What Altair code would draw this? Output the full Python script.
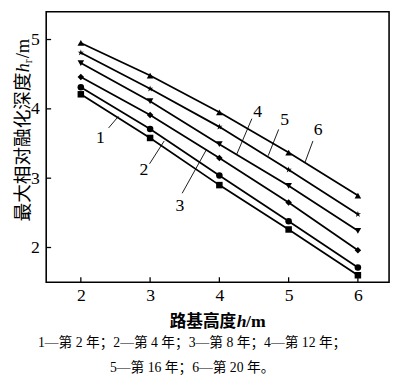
import altair as alt
import pandas as pd

# ---- data ----
heights = [2, 3, 4, 5, 6]
series_names = ["第2年", "第4年", "第8年", "第12年", "第16年", "第20年"]
y_year2 = [4.21, 3.58, 2.90, 2.26, 1.60]
y_year4 = [4.31, 3.71, 3.04, 2.38, 1.71]
y_year8 = [4.46, 3.91, 3.29, 2.65, 1.96]
y_year12 = [4.66, 4.11, 3.49, 2.89, 2.24]
y_year16 = [4.81, 4.29, 3.74, 3.12, 2.48]
y_year20 = [4.95, 4.48, 3.95, 3.37, 2.75]

x_ticks = [2, 3, 4, 5, 6]
y_ticks = [2, 3, 4, 5]

# curve labels (data coordinates) and leader lines
label_text = ["1", "2", "3", "4", "5", "6"]
label_x = [2.283, 2.911, 3.431, 4.554, 4.943, 5.425]
label_y = [3.584, 3.112, 2.592, 3.948, 3.834, 3.693]
leader_x1 = [2.401, 2.992, 3.463, 4.469, 4.856, 5.351]
leader_y1 = [3.725, 3.207, 2.782, 3.858, 3.703, 3.537]
leader_x2 = [2.542, 3.204, 3.817, 4.252, 4.705, 5.234]
leader_y2 = [3.891, 3.537, 3.419, 3.348, 3.324, 3.221]

caption_1 = "1—第 2 年；2—第 4 年；3—第 8 年；4—第 12 年；"
caption_2 = "5—第 16 年；6—第 20 年。"

# ---- build tables ----
all_series = [y_year2, y_year4, y_year8, y_year12, y_year16, y_year20]
rows = []
for name, vals in zip(series_names, all_series):
    for h, v in zip(heights, vals):
        rows.append({"h": h, "d": v, "series": name})
df = pd.DataFrame(rows)

lab_df = pd.DataFrame({"t": label_text, "x": label_x, "y": label_y})
lead_df = pd.DataFrame({"x1": leader_x1, "y1": leader_y1, "x2": leader_x2, "y2": leader_y2})
xt_df = pd.DataFrame({"v": x_ticks})
yt_df = pd.DataFrame({"v": y_ticks})

W, H = 350, 276
SERIF = "'Liberation Serif', 'Noto Sans CJK SC'"
CJK = "'Noto Sans CJK SC'"

xs = alt.Scale(domain=[1.5, 6.45], nice=False, zero=False)
ys = alt.Scale(domain=[1.5, 5.4], nice=False, zero=False)

star = ("M0,-1L0.2245,-0.309L0.951,-0.309L0.363,0.118L0.588,0.809L0,0.382"
        "L-0.588,0.809L-0.363,0.118L-0.951,-0.309L-0.2245,-0.309Z")
shapes = ["square", "circle", "diamond", "triangle-down", star, "triangle-up"]
sizes = [44, 46, 36, 52, 150, 52]

x_axis = alt.Axis(values=x_ticks, title=None, ticks=False, domain=False, grid=False,
                  labelFont="Liberation Serif", labelFontSize=18, labelColor="black",
                  labelPadding=5)
y_axis = alt.Axis(values=y_ticks, title=None, ticks=False, domain=False, grid=False,
                  labelFont="Liberation Serif", labelFontSize=18, labelColor="black",
                  labelPadding=7)


def X(f):
    return alt.X(f, scale=xs, axis=x_axis)


def Y(f):
    return alt.Y(f, scale=ys, axis=y_axis)


lines = alt.Chart(df).mark_line(color="black", strokeWidth=1.8).encode(
    x=X("h:Q"), y=Y("d:Q"), detail="series:N",
)

points = alt.Chart(df).mark_point(filled=True, color="black", opacity=1).encode(
    x=X("h:Q"), y=Y("d:Q"),
    shape=alt.Shape("series:N", scale=alt.Scale(domain=series_names, range=shapes), legend=None),
    size=alt.Size("series:N", scale=alt.Scale(domain=series_names, range=sizes), legend=None),
)

xticks = alt.Chart(xt_df).mark_rule(color="black", strokeWidth=1.3).encode(
    x=X("v:Q"), y=alt.value(H), y2=alt.value(H - 5),
)
yticks = alt.Chart(yt_df).mark_rule(color="black", strokeWidth=1.3).encode(
    y=Y("v:Q"), x=alt.value(0), x2=alt.value(5),
)

leaders = alt.Chart(lead_df).mark_rule(color="black", strokeWidth=0.9).encode(
    x=X("x1:Q"), y=Y("y1:Q"), x2="x2:Q", y2="y2:Q",
)
labels = alt.Chart(lab_df).mark_text(font="Liberation Serif", fontSize=18, color="black",
                                     baseline="middle", align="center").encode(
    x=X("x:Q"), y=Y("y:Q"), text="t:N",
)


def txt(s, x, y, **kw):
    return alt.Chart(pd.DataFrame({"t": [s]})).mark_text(color="black", **kw).encode(
        text="t:N", x=alt.value(x), y=alt.value(y))


# x axis title: 路基高度h/m
xt_y = 322
xtitle = [
    txt("路基高度", 194, xt_y, font=CJK, fontSize=17, fontWeight="bold", align="right", baseline="alphabetic"),
    txt("h", 194.5, xt_y, font="Liberation Serif", fontSize=18, fontWeight="bold", fontStyle="italic", align="left", baseline="alphabetic"),
    txt("/m", 204, xt_y, font="Liberation Serif", fontSize=18, fontWeight="bold", align="left", baseline="alphabetic"),
]

# y axis title: 最大相对融化深度h_r/m (rotated)
B = -18   # baseline x (plot coords)
J = 62    # junction between 度 and h (plot coords)
ytitle = [
    txt("最大相对融化深度", B, J, font=CJK, fontSize=19, angle=270, align="right", baseline="alphabetic"),
    txt("h", B, J, font="Liberation Serif", fontSize=19, fontStyle="italic", angle=270, align="left", baseline="alphabetic"),
    txt("r", B + 4, J - 9.5, font="Liberation Serif", fontSize=12, angle=270, align="left", baseline="alphabetic"),
    txt("/m", B, J - 14.5, font="Liberation Serif", fontSize=19, angle=270, align="left", baseline="alphabetic"),
]

captions = [
    txt(caption_1, 149, 338, font=SERIF, fontSize=14, align="center", baseline="middle"),
    txt(caption_2, 149, 364, font=SERIF, fontSize=14, align="center", baseline="middle"),
]

chart = alt.layer(
    lines, points, xticks, yticks, leaders, labels, *xtitle, *ytitle, *captions
).properties(
    width=W, height=H,
    autosize=alt.AutoSizeParams(type="none"),
    padding={"left": 39, "top": 0, "right": 3, "bottom": 96},
).configure_view(
    stroke="black", strokeWidth=1.6
).configure_axis(
    grid=False
)

chart.save("out.html", embed_options={"renderer": "svg", "actions": False})
